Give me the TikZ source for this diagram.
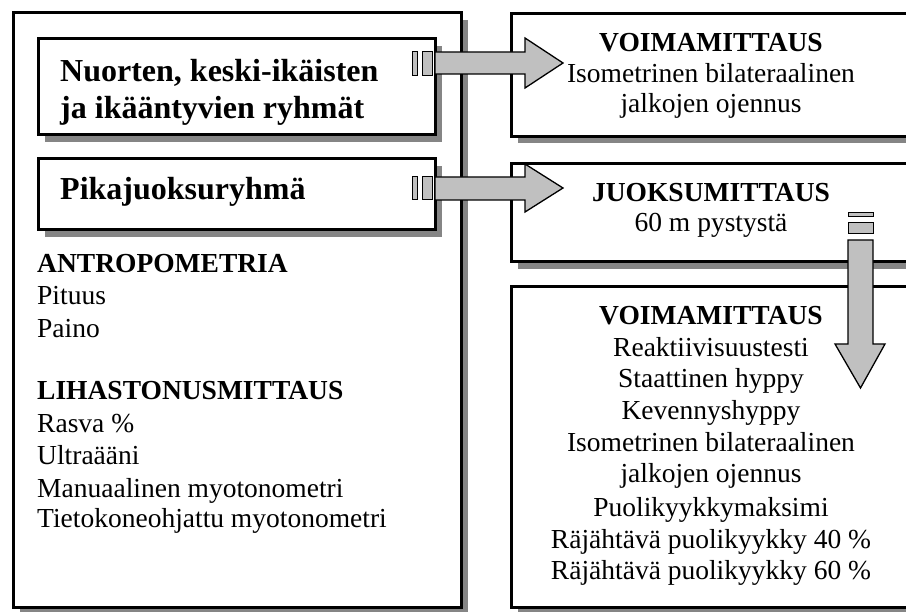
\documentclass[tikz,border=0pt]{standalone}
\usepackage{fontspec}
\setmainfont{Liberation Serif}
\usetikzlibrary{calc,shadows}
\definecolor{arrowgray}{HTML}{C0C0C0}
\definecolor{shadowgray}{HTML}{858585}
\begin{document}
\begin{tikzpicture}[x=1pt,y=-1pt,
  box/.style={draw=black, line width=3pt, fill=white, inner sep=0pt, outer sep=0pt,
    drop shadow={shadow xshift=7pt, shadow yshift=-7pt, fill=shadowgray, opacity=1}},
  headtxt/.style={font=\bfseries\fontsize{32}{36}\selectfont, anchor=base west, inner sep=0pt},
  subtxt/.style={font=\bfseries\fontsize{27.5}{31}\selectfont, inner sep=0pt},
  plaintxt/.style={font=\fontsize{27.5}{31}\selectfont, inner sep=0pt},
  barrow/.style={fill=arrowgray, draw=black, line width=1.3pt, line join=miter},
  tailmark/.style={fill=arrowgray, draw=black, line width=1pt}]
\useasboundingbox (0,0) rectangle (906,612);
\clip (0,0) rectangle (906,612);

% boxes
\node[box, minimum width=448pt, minimum height=594pt] (main) at (237,310) {};
\node[box, minimum width=397pt, minimum height=96pt] (g1) at (236.5,87) {};
\node[box, minimum width=397pt, minimum height=71pt] (g2) at (236.5,194.5) {};
\node[box, minimum width=449pt, minimum height=122.5pt] (r1) at (735.5,75.25) {};
\node[box, minimum width=449pt, minimum height=98.5pt] (r2) at (735.5,212.75) {};
\node[box, minimum width=449pt, minimum height=320.5pt] (r3) at (735.5,446.75) {};

% arrow 1
\coordinate (a1tail) at (435,64);
\draw[barrow] ($(a1tail)+(0,-12)$) -- ++(90,0) -- ++(0,-14) -- ++(38,25) -- ++(-38,25) -- ++(0,-14) -- ++(-90,0) -- cycle;
\draw[tailmark] (412.5,52) rectangle (417,76);
\draw[tailmark] (422,52) rectangle (432,76);

% arrow 2
\coordinate (a2tail) at (435,188.5);
\draw[barrow] ($(a2tail)+(0,-11.5)$) -- ++(90,0) -- ++(0,-13) -- ++(38,24) -- ++(-38,24) -- ++(0,-12) -- ++(-90,0) -- cycle;
\draw[tailmark] (412.5,177) rectangle (417,200);
\draw[tailmark] (422,177) rectangle (432,200);

% arrow 3 (down)
\coordinate (a3tail) at (860.5,240);
\draw[barrow] ($(a3tail)+(-12.5,0)$) -- ++(0,104) -- ++(-13,0) -- ++(25.5,44) -- ++(24.5,-44) -- ++(-12,0) -- ++(0,-104) -- cycle;
\draw[tailmark] (848,213) rectangle (873,217);
\draw[tailmark] (848,223) rectangle (873,234);

% texts in group boxes
\node[headtxt] (g1a) at (60,82) {Nuorten, keski-ikäisten};
\node[headtxt] (g1b) at (60,119) {ja ikääntyvien ryhmät};
\node[headtxt] (g2a) at (60,200) {Pikajuoksuryhmä};

% left list
\node[subtxt, anchor=base west] (l1) at (37,273) {ANTROPOMETRIA};
\node[plaintxt, anchor=base west] (l2) at (37,305) {Pituus};
\node[plaintxt, anchor=base west] (l3) at (37,338) {Paino};
\node[subtxt, anchor=base west] (l4) at (37,400) {LIHASTONUSMITTAUS};
\node[plaintxt, anchor=base west] (l5) at (37,433) {Rasva \%};
\node[plaintxt, anchor=base west] (l6) at (37,465) {Ultraääni};
\node[plaintxt, anchor=base west] (l7) at (37,497) {Manuaalinen myotonometri};
\node[plaintxt, anchor=base west] (l8) at (37,528) {Tietokoneohjattu myotonometri};

% right box 1
\node[subtxt, anchor=base] (r1a) at (711,52) {VOIMAMITTAUS};
\node[plaintxt, anchor=base] (r1b) at (711,83) {Isometrinen bilateraalinen};
\node[plaintxt, anchor=base] (r1c) at (711,113) {jalkojen ojennus};

% right box 2
\node[subtxt, anchor=base] (r2a) at (711,202) {JUOKSUMITTAUS};
\node[plaintxt, anchor=base] (r2b) at (711,232) {60 m pystystä};

% right box 3
\node[subtxt, anchor=base] (r3a) at (711,325) {VOIMAMITTAUS};
\node[plaintxt, anchor=base] (r3b) at (711,357) {Reaktiivisuustesti};
\node[plaintxt, anchor=base] (r3c) at (711,388) {Staattinen hyppy};
\node[plaintxt, anchor=base] (r3d) at (711,420) {Kevennyshyppy};
\node[plaintxt, anchor=base] (r3e) at (711,452) {Isometrinen bilateraalinen};
\node[plaintxt, anchor=base] (r3f) at (711,483) {jalkojen ojennus};
\node[plaintxt, anchor=base] (r3g) at (711,517) {Puolikyykkymaksimi};
\node[plaintxt, anchor=base] (r3h) at (711,548) {Räjähtävä puolikyykky 40 \%};
\node[plaintxt, anchor=base] (r3i) at (711,579) {Räjähtävä puolikyykky 60 \%};
\end{tikzpicture}
\end{document}
